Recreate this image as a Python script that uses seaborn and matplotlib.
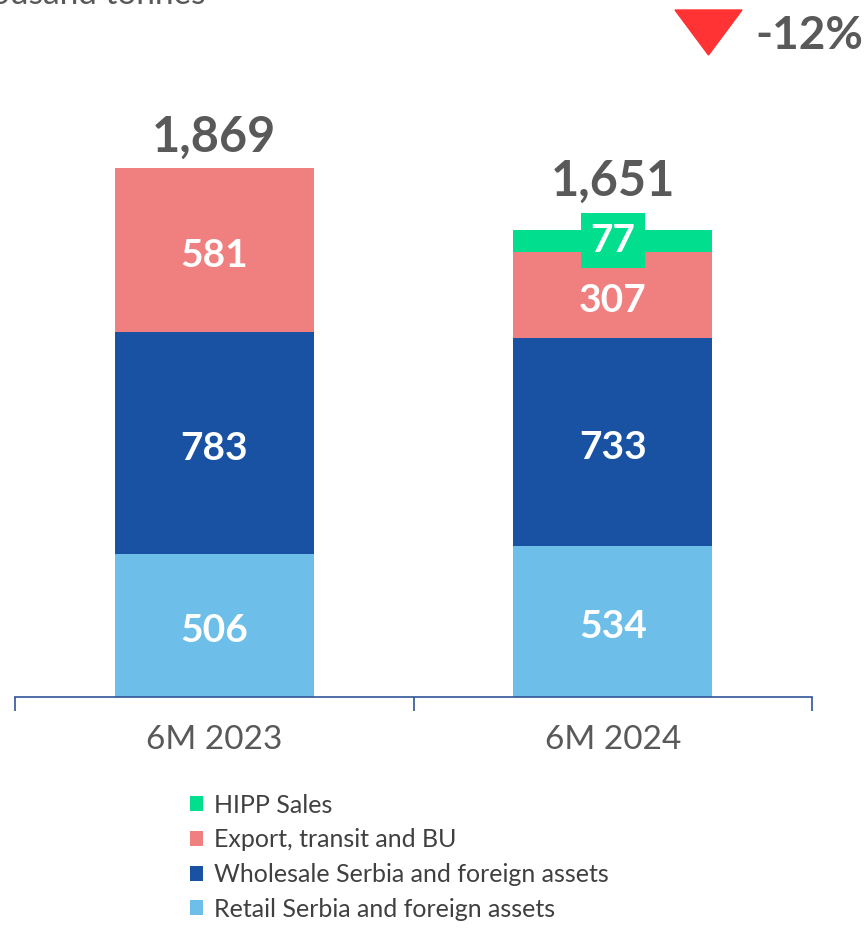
import matplotlib
matplotlib.use("Agg")
import matplotlib.pyplot as plt
import seaborn as sns
import numpy as np
from matplotlib.patches import Patch, Polygon

# data
periods = ["6M 2023", "6M 2024"]
retail = [506, 534]
wholesale = [783, 733]
export = [581, 307]
hipp = [0, 77]
totals = [1869, 1651]
change_label = "-12%"
unit_label = "In thousand tonnes"

series_names = ["HIPP Sales", "Export, transit and BU",
                "Wholesale Serbia and foreign assets", "Retail Serbia and foreign assets"]
series_vals = [hipp, export, wholesale, retail]
colors = ["#00DE8E", "#F08080", "#1A52A3", "#6EBEEA"]

sns.set_theme(style="white")
plt.rcParams["font.family"] = ["Lato", "DejaVu Sans"]
gray = "#595959"

fig = plt.figure(figsize=(8.66, 9.30), dpi=100)
ax = fig.add_axes([15 / 866, 233 / 930, 797 / 866, 566 / 930])

# stacked bars: draw cumulative heights from the top series down
stack = np.array(series_vals[::-1])  # bottom -> top
cum = np.cumsum(stack, axis=0)[::-1]  # top series first
for name, c, h in zip(series_names, colors, cum):
    sns.barplot(x=periods, y=h, color=c, width=0.5, ax=ax, saturation=1,
                linewidth=0, edgecolor="none")

# segment labels
bottoms = np.vstack([np.zeros(2), np.cumsum(stack, axis=0)[:-1]])
for vals, bots, name in zip(stack, bottoms, series_names[::-1]):
    for i, (v, b) in enumerate(zip(vals, bots)):
        if v == 0:
            continue
        kw = {}
        shift = -4
        if name == "HIPP Sales":
            kw["bbox"] = dict(boxstyle="square,pad=0.25", fc=colors[0], ec="none")
            shift = 0
        ax.annotate(f"{v}", (i, b + v / 2), xytext=(0, shift), textcoords="offset points",
                    ha="center", va="center", color="white",
                    fontsize=28, fontweight="bold", **kw)

# totals
gaps = [6, 19]
for i, t in enumerate(totals):
    ax.annotate(f"{t:,}", (i, sum(s[i] for s in series_vals)), xytext=(0, gaps[i]),
                textcoords="offset points", ha="center", va="bottom",
                fontsize=35, fontweight="bold", color=gray)

ax.set_xlim(-0.5, 1.5)
ax.set_ylim(0, 2000)
sns.despine(ax=ax, left=True)
ax.spines["bottom"].set_color("#2F5597")
ax.spines["bottom"].set_linewidth(1.2)
ax.set_yticks([])
ax.set_ylabel("")
ax.set_xticks([0, 1])
ax.set_xticklabels(periods, fontsize=24, color=gray)
ax.tick_params(axis="x", which="major", length=0, pad=20)
ax.set_xticks([-0.5, 0.5, 1.5], minor=True)
ax.tick_params(axis="x", which="minor", length=10, width=1.2, color="#2F5597",
               direction="out", bottom=True)

# legend
handles = [Patch(facecolor=c, edgecolor="none") for c in colors]
fig.legend(handles, series_names, loc="upper left", bbox_to_anchor=(187 / 866, 1 - 791 / 930),
           frameon=False, fontsize=18, handlelength=0.55, handleheight=0.55,
           handletextpad=0.45, labelspacing=0.47, labelcolor="#404040",
           borderaxespad=0, borderpad=0.1)

# change marker
tri = Polygon([[675 / 866, 1 - 10 / 930], [742 / 866, 1 - 10 / 930], [708.5 / 866, 1 - 55 / 930]],
              closed=True, transform=fig.transFigure, color="#FF3333")
fig.patches.append(tri)
fig.text(755 / 866, 1 - 36 / 930, change_label, ha="left", va="center",
         fontsize=33, fontweight="bold", color=gray)

# unit label, partly off canvas as in the source slide
fig.text(205 / 866, 1 - 4 / 930, unit_label, ha="right", va="baseline",
         fontsize=24, color=gray)

fig.savefig("out.png", dpi=100)
